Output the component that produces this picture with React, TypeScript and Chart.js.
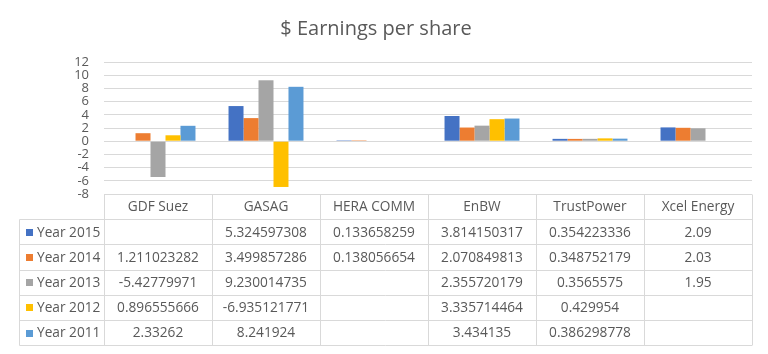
import React, { useEffect, useRef } from "react";
import { Chart, registerables } from "chart.js";

Chart.register(...registerables);

const categories = ["GDF Suez", "GASAG", "HERA COMM", "EnBW", "TrustPower", "Xcel Energy"];
const seriesNames = ["Year 2015", "Year 2014", "Year 2013", "Year 2012", "Year 2011"];
const seriesColors = ["#4472C4", "#ED7D31", "#A5A5A5", "#FFC000", "#5B9BD5"];

const year2015 = [null, 5.324597308, 0.133658259, 3.814150317, 0.354223336, 2.09];
const year2014 = [1.211023282, 3.499857286, 0.138056654, 2.070849813, 0.348752179, 2.03];
const year2013 = [-5.42779971, 9.230014735, null, 2.355720179, 0.3565575, 1.95];
const year2012 = [0.896555666, -6.935121771, null, 3.335714464, 0.429954, null];
const year2011 = [2.33262, 8.241924, null, 3.434135, 0.386298778, null];

const seriesValues = [year2015, year2014, year2013, year2012, year2011];

const yMin = -8;
const yMax = 12;
const yStep = 2;

const TEXT = "#595959";
const GRID = "#d9d9d9";
const FONT = "'Open Sans', 'Liberation Sans', sans-serif";

const dataTablePlugin = {
  id: "dataTable",
  afterDraw(chart: any) {
    const { ctx, chartArea } = chart;
    const xScale = chart.scales.x;
    const n = categories.length;
    const colW = (chartArea.right - chartArea.left) / n;
    const top = chartArea.bottom;
    const rowH = 25.2;
    const rows = seriesNames.length + 1;
    const bottom = top + rows * rowH;
    const legendLeft = 19.5;
    const a = (v: number) => Math.round(v) + 0.5;

    ctx.save();
    ctx.strokeStyle = GRID;
    ctx.lineWidth = 1;
    ctx.beginPath();
    for (let k = 0; k <= rows; k++) {
      const y = a(top + k * rowH);
      ctx.moveTo(k === 0 ? chartArea.left : legendLeft, y);
      ctx.lineTo(chartArea.right, y);
    }
    for (let i = 0; i <= n; i++) {
      const x = a(chartArea.left + i * colW);
      ctx.moveTo(x, a(top));
      ctx.lineTo(x, a(bottom));
    }
    ctx.moveTo(legendLeft, a(top + rowH));
    ctx.lineTo(legendLeft, a(bottom));
    ctx.stroke();

    ctx.fillStyle = TEXT;
    ctx.font = `13.7px ${FONT}`;
    ctx.textBaseline = "middle";
    ctx.textAlign = "center";
    categories.forEach((c, i) => {
      ctx.fillText(c, xScale.getPixelForValue(i), top + rowH / 2 + 1);
    });

    seriesNames.forEach((name, r) => {
      const yc = top + (r + 1) * rowH + rowH / 2 + 1;
      ctx.fillStyle = seriesColors[r];
      ctx.fillRect(26, Math.round(yc - 4), 7, 7);
      ctx.fillStyle = TEXT;
      ctx.textAlign = "left";
      ctx.fillText(name, 37, yc);
      ctx.textAlign = "center";
      seriesValues[r].forEach((v, i) => {
        if (v === null || v === undefined) return;
        ctx.fillText(String(v), xScale.getPixelForValue(i), yc);
      });
    });
    ctx.restore();
  },
};

export default function App() {
  const ref = useRef<HTMLCanvasElement | null>(null);

  useEffect(() => {
    if (!ref.current) return;
    const chart = new Chart(ref.current, {
      type: "bar",
      data: {
        labels: categories,
        datasets: seriesNames.map((name, i) => ({
          label: name,
          data: seriesValues[i],
          backgroundColor: seriesColors[i],
          borderWidth: 0,
          categoryPercentage: 0.694,
          barPercentage: 1,
        })),
      },
      options: {
        responsive: false,
        animation: false,
        layout: { padding: { left: 0, right: 16, top: 0, bottom: 160 } },
        plugins: {
          legend: { display: false },
          tooltip: { enabled: false },
          title: {
            display: true,
            text: "$ Earnings per share",
            color: TEXT,
            font: { family: FONT, size: 20, weight: "normal" },
            padding: { top: 17, bottom: 21 },
          },
        },
        scales: {
          x: { display: false },
          y: {
            min: yMin,
            max: yMax,
            ticks: {
              stepSize: yStep,
              autoSkip: false,
              color: TEXT,
              padding: 15,
              font: { family: FONT, size: 13, lineHeight: 1 },
            },
            grid: { color: GRID, drawTicks: false },
            border: { display: false },
            afterFit: (scale: any) => {
              scale.width = 104;
            },
          },
        },
      },
      plugins: [dataTablePlugin],
    });
    return () => chart.destroy();
  }, []);

  return (
    <div style={{ position: "absolute", left: 0, top: 0, width: 768, height: 354, background: "#fff" }}>
      <canvas ref={ref} width={768} height={354} style={{ display: "block" }} />
    </div>
  );
}
